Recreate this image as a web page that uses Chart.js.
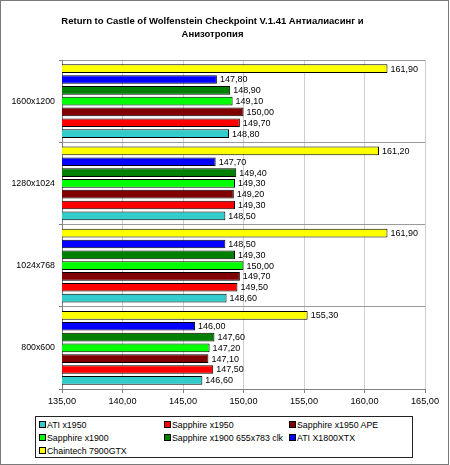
<!DOCTYPE html>
<html>
<head>
<meta charset="utf-8">
<script src="https://cdn.jsdelivr.net/npm/chart.js@4/dist/chart.umd.min.js"></script>
<style>
  html, body { margin: 0; padding: 0; background: #fff; }
  #wrap { position: relative; width: 450px; height: 465px; }
  #frame { position: absolute; left: 0; top: 0; width: 449px; height: 465px; box-sizing: border-box; border: 1px solid #7a7a7a; pointer-events: none; }
  #legend { position: absolute; left: 35px; top: 416px; width: 378px; height: 42px; box-sizing: border-box; border: 1px solid #222; background: #fff;
            font-family: "Liberation Sans", Arial, sans-serif; font-size: 8.8px; color: #000; }
  .item { position: absolute; height: 13px; line-height: 13px; white-space: nowrap; }
  .sw { display: inline-block; width: 5px; height: 5px; border: 1px solid #000; margin-right: 1px; vertical-align: 0px; }
</style>
</head>
<body>
<div id="wrap">
  <canvas id="c" width="450" height="465"></canvas>
  <div id="legend"></div>
  <div id="frame"></div>
</div>
<script>
const categories = ['1600x1200', '1280x1024', '1024x768', '800x600'];
const xTicks = [135, 140, 145, 150, 155, 160, 165];

const ati1950       = [148.80, 148.50, 148.60, 146.60];
const sapphire1950  = [149.70, 149.30, 149.50, 147.50];
const sapphire1950A = [150.00, 149.20, 149.70, 147.10];
const sapphire1900  = [149.10, 149.30, 150.00, 147.20];
const sapphire1900c = [148.90, 149.40, 149.30, 147.60];
const ati1800       = [147.80, 147.70, 148.50, 146.00];
const chaintech     = [161.90, 161.20, 161.90, 155.30];

const seriesNames  = ['ATI x1950', 'Sapphire x1950', 'Sapphire x1950 APE', 'Sapphire x1900', 'Sapphire x1900 655x783 clk', 'ATI X1800XTX', 'Chaintech 7900GTX'];
const seriesValues = [ati1950, sapphire1950, sapphire1950A, sapphire1900, sapphire1900c, ati1800, chaintech];
const seriesColors = ['#33CCCC', '#FF0000', '#800000', '#00FF00', '#008000', '#0000FF', '#FFFF00'];

const fmt = v => v.toFixed(2).replace('.', ',');

// Chart.js puts dataset 0 at top of each group; reference has the last series on top.
const datasets = seriesNames.map((n, i) => ({
  label: n,
  data: seriesValues[i],
  backgroundColor: seriesColors[i],
  borderColor: '#000',
  borderWidth: 1,
  borderSkipped: false,
  categoryPercentage: 0.92,
  barPercentage: 0.80
})).reverse();

const FONT = '"Liberation Sans", Arial, sans-serif';
Chart.defaults.font.family = FONT;
Chart.defaults.font.size = 9;
Chart.defaults.color = '#000';

const labelPlugin = {
  id: 'valueLabels',
  afterDatasetsDraw(chart) {
    const ctx = chart.ctx;
    ctx.save();
    ctx.font = '9px ' + FONT;
    ctx.fillStyle = '#000';
    ctx.textAlign = 'left';
    ctx.textBaseline = 'middle';
    chart.data.datasets.forEach((ds, di) => {
      const meta = chart.getDatasetMeta(di);
      meta.data.forEach((el, i) => {
        ctx.fillText(fmt(ds.data[i]), el.x + 3, el.y + 0.5);
      });
    });
    ctx.restore();
  }
};

const chart = new Chart(document.getElementById('c'), {
  type: 'bar',
  data: { labels: categories, datasets: datasets },
  options: {
    indexAxis: 'y',
    responsive: false,
    animation: false,
    layout: { padding: { left: 0, right: 25, top: 0, bottom: 0 } },
    plugins: {
      legend: { display: false },
      tooltip: { enabled: false },
      title: {
        display: true,
        text: ['Return to Castle of Wolfenstein Checkpoint V.1.41 Антиалиасинг и', 'Анизотропия'],
        color: '#000',
        font: { weight: 'bold', size: 9.5, lineHeight: 13 / 9.5 },
        padding: { top: 15, bottom: 19 }
      }
    },
    scales: {
      x: {
        min: 135, max: 165,
        afterBuildTicks: s => { s.ticks = xTicks.map(v => ({ value: v })); },
        afterFit: s => { s.height = 76; },
        ticks: { callback: v => fmt(v), padding: 3, color: '#000', maxRotation: 0, font: { size: 9.2 } },
        grid: { color: '#cfcfcf', tickColor: '#808080', tickLength: 4 },
        border: { color: '#808080', width: 1 }
      },
      y: {
        afterFit: s => { s.width = 62; },
        ticks: { padding: 4, color: '#000', font: { size: 8.8 } },
        grid: { offset: true, color: '#9a9a9a', tickColor: '#808080', tickLength: 3 },
        border: { color: '#808080', width: 1 }
      }
    }
  },
  plugins: [labelPlugin]
});

// HTML legend in 3 fixed columns, series order
const legend = document.getElementById('legend');
const colX = [3, 128, 253];
const rowY = [2, 15, 28];
seriesNames.forEach((n, i) => {
  const d = document.createElement('div');
  d.className = 'item';
  d.style.left = colX[i % 3] + 'px';
  d.style.top = rowY[Math.floor(i / 3)] + 'px';
  const sw = document.createElement('span');
  sw.className = 'sw';
  sw.style.background = seriesColors[i];
  d.appendChild(sw);
  d.appendChild(document.createTextNode(n));
  legend.appendChild(d);
});
</script>
</body>
</html>
